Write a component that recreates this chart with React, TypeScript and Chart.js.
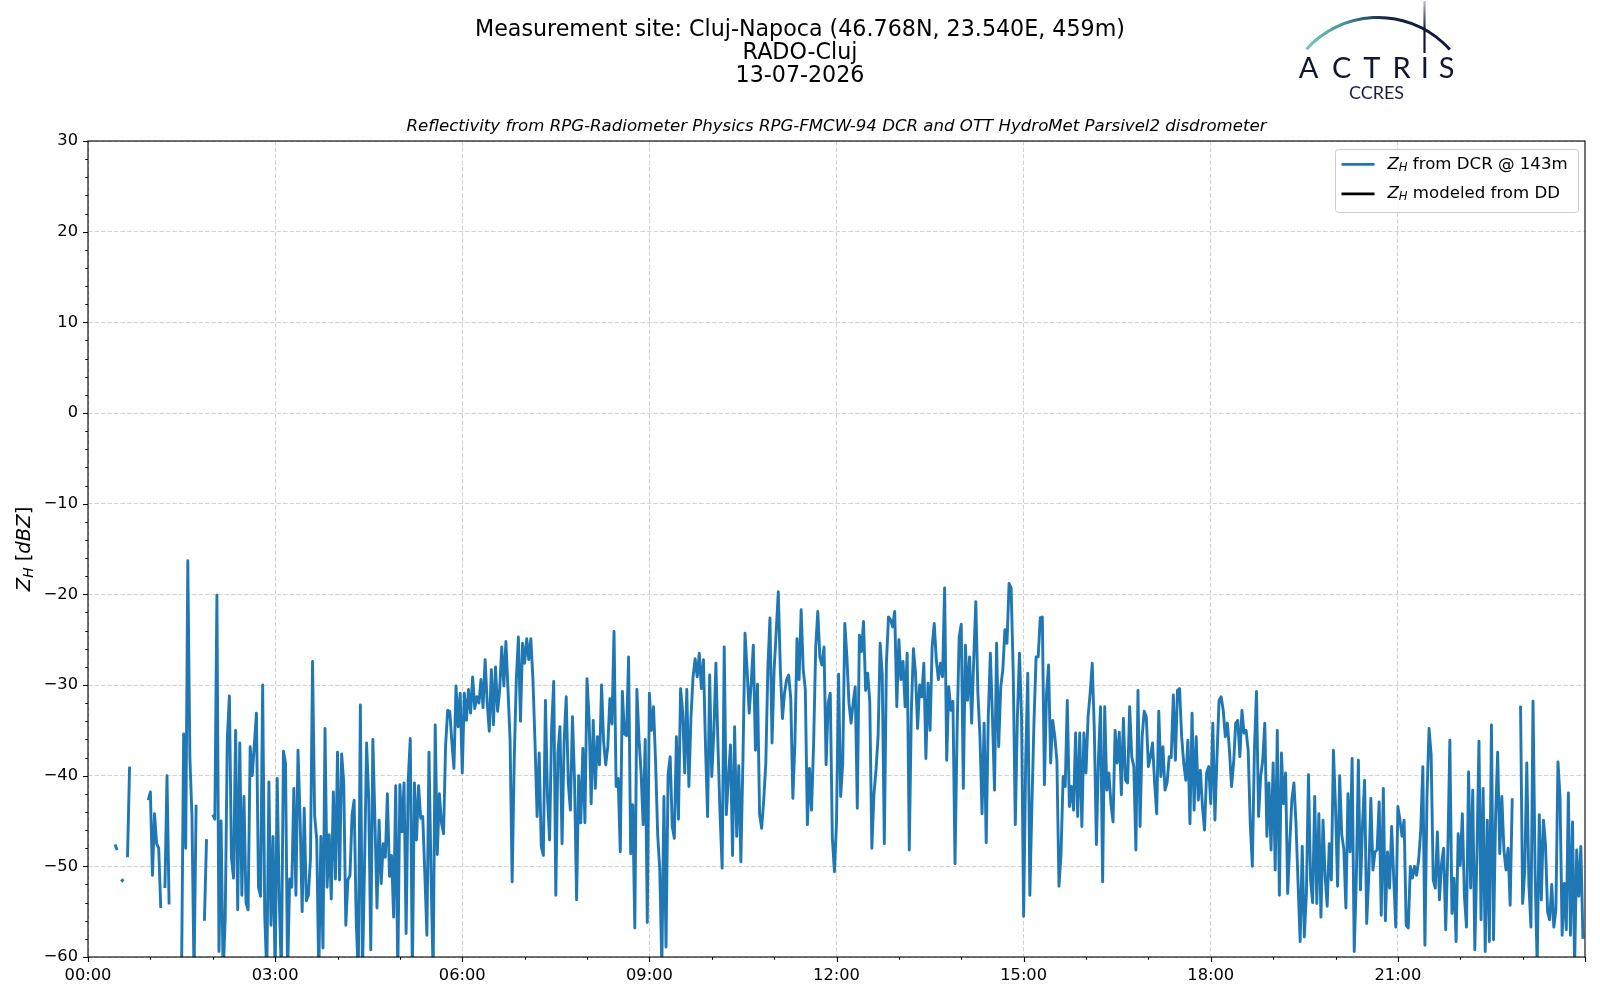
import { useEffect, useRef } from "react";
import { Chart, registerables } from "chart.js";

Chart.register(...registerables);

const N = null;

// header texts
const titleLines = [
    "Measurement site: Cluj-Napoca (46.768N, 23.540E, 459m)",
    "RADO-Cluj",
    "13-07-2026",
];
const subtitle = "Reflectivity from RPG-Radiometer Physics RPG-FMCW-94 DCR and OTT HydroMet Parsivel2 disdrometer";

// x axis in minutes after 00:00
const tickMinutes = [0, 180, 360, 540, 720, 900, 1080, 1260];
const tickLabels = ["00:00", "03:00", "06:00", "09:00", "12:00", "15:00", "18:00", "21:00"];
const sampleStep = 2; // minutes between DCR samples

// Z_H from DCR @ 143m, one row per hour (dBZ, null = no echo)
const dcrZh: (number | null)[] = [
    N, N, N, N, N, N, N, N, N, N, N, N, N, -47.6, -48.2, N, -51.7, -51.4, N, -49, -39, N, N, N, N, N, N, N, N, -42.7,
    -41.8, -51, -44.2, -47.5, -48, -54.6, N, -52.4, -40, -54.2, N, N, N, N, N, -62, -35.4, -48, -16.3, -38, -44.5, -62, -43.2, N, N, N, -56, -47, N, N,
    -44.3, -44.8, -20.1, -59.4, -45, -62, -55.7, -35.9, -31.2, -49.1, -51.3, -35, -54.8, -36.4, -53.2, -42.3, -54, -54.8, -36.8, -40, -36.6, -33.1, -52.3, -53.3, -30, -55.4, -62, -40.7, -56.5, -46.7,
    -62, -40.3, -53.8, -62, -37.3, -38.6, -62, -51.4, -52.3, -41.4, -53.2, -37.2, -44.6, -55, -43.6, -53.8, -53.2, -49.1, -27.4, -44.4, -47, -62, -46.7, -59, -34.8, -52.3, -46.5, -53.6, -41.8, -51.4,
    -37.4, -51.5, -37.6, -40.8, -56.5, -51.5, -51, -44.3, -42.7, -56, -62, -32.2, -62, -50, -36.4, -42.5, -59.2, -36, -44.9, -54.6, -44.9, -51.9, -47.5, -49, -42, -51.1, -48.8, -55.6, -41.1, -62,
    -41, -46.2, -40.8, -57.4, -40.5, -35.9, -62, -40.8, -47.1, -41.1, -44.7, -44.5, -50.8, -57.6, -37.4, -51, -62, -34.4, -48.7, -42, -45.2, -46.4, -36.6, -32.8, -32.9, -36.3, -39.2, -30.1, -34.6, -30.9,
    -39.7, -30.9, -33.9, -30.5, -33.1, -29.1, -32.6, -31.3, -32, -29.4, -32.5, -27.2, -32, -35.1, -28.3, -34.4, -28, -32.9, -30.5, -25.8, -30.1, -25.2, -30.5, -36, -51.7, -38.3, -29.4, -24.7, -34, -25.4,
    -27.6, -24.9, -27.2, -24.9, -29.4, -36.4, -44.5, -37.5, -47.8, -48.8, -31.7, -42.3, -47.1, -34.6, -29.6, -53.2, -37.5, -34.6, -47.5, -36.2, -31.3, -40.8, -43.8, -33.5, -40.5, -53.7, -40, -45.2, -37, -45.2,
    -29.3, -33.7, -43.1, -33.9, -41.4, -35.7, -38.8, -30, -36.3, -38.8, -36.8, -31.5, -34.3, -24.1, -41.2, -40.3, -48.4, -30.7, -35.4, -35.6, -26.9, -48.6, -43.2, -56.8, -30.5, -35.9, -39.6, -45.4, -36, -56.2,
    -30.9, -35, -32.4, -38.6, -46.5, -50.4, -61, -42.3, -58.9, -39.9, -37.9, -45.6, -46.9, -35.7, -44.8, -30.4, -32.9, -39.7, -30.5, -41.2, -33.6, -29.1, -27.1, -29.1, -26.5, -30.4, -27.2, -36.8, -44.5, -28.9,
    -40.1, -35.3, -27.6, -36.8, -44.3, -50.2, -25.8, -44.3, -40.3, -36.6, -48.8, -34.6, -46.7, -38.9, -49.5, -38.3, -24.3, -28.3, -33.1, -29.7, -25.6, -37.2, -29.9, -44.2, -45.8, -42.7, -38.6, -28, -22.6, -36.4,
    -28.3, -24.1, -19.7, -28.3, -33.7, -30.9, -29.4, -28.9, -31.5, -42.5, -36.4, -24.9, -29.4, -21.7, -28.3, -30.5, -45.4, -39.2, -43.8, -36.4, -25.8, -21.9, -26.9, -27.8, -25.8, -38.8, -32, -30.9, -46.9, -50.6,
    -45.2, -28.8, -42.3, -38.6, -23.2, -26.9, -32, -34.2, -32, -30.2, -43.6, -24.5, -26.3, -23, -30.6, -28.7, -31.8, -48, -42.1, -39.4, -35.7, -25.4, -28.9, -47.5, -27.6, -22.5, -22.8, -23.6, -21.9, -32.4,
    -25, -29.4, -27.4, -32.4, -26.5, -48.2, -32.8, -26, -28.7, -34.8, -30, -31.3, -27.6, -38.1, -29.8, -35, -25.8, -23.2, -27.2, -29.4, -27.6, -29.1, -19.3, -38.3, -30.2, -32.8, -31.8, -49.7, -35, -24.7,
    -23.3, -41.4, -25.6, -31.7, -26.9, -34.2, -27.2, -20.8, -30.9, -35.7, -44.2, -34.2, -47.4, -33.5, -26.5, -33.5, -41.6, -25.4, -36.8, -30.2, -28.3, -23.9, -25.4, -18.8, -19.3, -28.7, -45.4, -33.5, -26.5, -33.5,
    -55.5, -38.3, -28.7, -53.2, -43.1, -33.9, -26.9, -26.9, -22.6, -22.5, -41, -31, -27.8, -38.6, -33.9, -35.7, -38.3, -52.2, -48.6, -40.1, -41.2, -31.7, -43.4, -41.2, -43.8, -35.3, -44.5, -35.3, -45.6, -35.3,
    -39.7, -33.5, -30.9, -27.6, -35, -47.6, -38, -32.4, -51.7, -32.4, -41.6, -39.7, -43.1, -45.1, -35, -38.6, -35.2, -42.1, -33.7, -40.5, -40.8, -32.4, -37.9, -39, -48.2, -30.6, -45.6, -35.7, -32.9, -33.5,
    -39, -37.9, -36.4, -40.8, -44.2, -32.9, -40.1, -36.8, -41.6, -40.8, -37.9, -38, -31.1, -38.3, -30.6, -30.4, -35.7, -38.6, -40.5, -36.1, -45.3, -33.1, -43.8, -35.7, -42.7, -39.4, -43.4, -46, -39.7, -39,
    -43.1, -34.2, -44.9, -37.9, -31.7, -31.3, -32.8, -35.7, -34.2, -37.2, -41.2, -38.6, -34.2, -33.9, -37.9, -32.8, -35.3, -35, -37.2, -45.3, -50, -37.2, -30.7, -44.5, -40.1, -38.3, -34.2, -46.7, -40.8, -48.2,
    -38.6, -50.4, -35, -53.2, -37.5, -43.1, -39.7, -53, -47.5, -42.7, -40.8, -45.3, -51.9, -58.3, -47.8, -57.8, -53, -39.9, -51.5, -54, -42.3, -54.1, -44.2, -55.6, -44.9, -51.1, -54.4, -47.5, -51.5, -37.2,
    -43.4, -52.2, -40, -46.5, -48.1, -54.6, -42, -48.4, -38.1, -59.4, -51.5, -38.3, -52.6, -45.3, -40.5, -56.3, -51.1, -42.5, -50.4, -48.4, -48.2, -42.9, -55.4, -41.4, -56, -48.4, -52.4, -45.6, -51.3, -56.7,
    -43.4, -44.9, -46.7, -44.9, -56.5, -56.8, -50, -51.3, -50, -51, -49.3, -46, -39, -58.7, -42.3, -34.8, -37.7, -51.5, -52.4, -46.2, -53.7, -49.7, -48, -57, -48.6, -36.1, -55.2, -51.3, -58.3, -46.4,
    -49.9, -44.2, -53.3, -56.7, -39.6, -52.4, -41.6, -59.2, -48.9, -36.2, -55.9, -41.4, -59.4, -44.9, -58.3, -34.4, -58.1, -44.5, -37.4, -48.6, -42.3, -48.2, -50.4, -48, -54.3, -42.5, N, N, N, -32.3,
    -54.1, -50.6, -38.6, -51.9, -56.7, -31.8, -50.6, -61, -44.3, -53.7, -44.9, -47.6, -55, -55.9, -52, -56.7, -54.8, -38.5, -42.5, -57.6, -51.9, -57, -41.9, -57.6, -45.1, -61, -48.2, -53.3, -47.8, -58,
];

// Z_H modeled from the disdrometer DSD: nothing recorded this day
const ddZh: (number | null)[] = [];

type Piece = { t: string; it?: boolean; sub?: boolean };

const legendItems: { parts: Piece[]; color: string }[] = [
    { parts: [{ t: "Z", it: true }, { t: "H", it: true, sub: true }, { t: " from DCR @ 143m" }], color: "#1f77b4" },
    { parts: [{ t: "Z", it: true }, { t: "H", it: true, sub: true }, { t: " modeled from DD" }], color: "#000000" },
];
const yTitle: Piece[] = [{ t: "Z", it: true }, { t: "H", it: true, sub: true }, { t: " [" }, { t: "dBZ", it: true }, { t: "]" }];

const FAMILY = '"DejaVu Sans", sans-serif';
const TICK_SIZE = 16.25;
const TEXT_SIZE = 16.6;

function drawPieces(ctx: CanvasRenderingContext2D, parts: Piece[], x: number, y: number, size: number, align: "left" | "center") {
    const fontOf = (p: Piece) => `${p.it ? "italic " : ""}${p.sub ? size * 0.7 : size}px ${FAMILY}`;
    const widths = parts.map((p) => {
        ctx.font = fontOf(p);
        return ctx.measureText(p.t).width;
    });
    const total = widths.reduce((a, b) => a + b, 0);
    let cx = align === "center" ? x - total / 2 : x;
    ctx.textAlign = "left";
    parts.forEach((p, i) => {
        ctx.font = fontOf(p);
        ctx.fillText(p.t, cx, y + (p.sub ? size * 0.22 : 0));
        cx += widths[i];
    });
}

function drawLogo(ctx: CanvasRenderingContext2D) {
    ctx.save();
    const navy = "#121636";
    const arcGrad = ctx.createLinearGradient(1306, 0, 1450, 0);
    arcGrad.addColorStop(0, "#78c6c2");
    arcGrad.addColorStop(0.28, "#3d8f99");
    arcGrad.addColorStop(0.55, "#152448");
    arcGrad.addColorStop(1, navy);
    ctx.strokeStyle = arcGrad;
    ctx.lineWidth = 3;
    ctx.beginPath();
    ctx.arc(1378, 114, 96.5, (-137.8 * Math.PI) / 180, (-41.9 * Math.PI) / 180);
    ctx.stroke();

    const mast = ctx.createLinearGradient(0, 0, 0, 30);
    mast.addColorStop(0, "rgba(18,22,54,0.25)");
    mast.addColorStop(1, navy);
    ctx.strokeStyle = mast;
    ctx.lineWidth = 2.2;
    ctx.beginPath();
    ctx.moveTo(1424.5, 1);
    ctx.lineTo(1424.5, 53);
    ctx.stroke();

    ctx.fillStyle = navy;
    ctx.font = '400 29px Lato, "DejaVu Sans", sans-serif';
    ctx.textAlign = "center";
    ctx.textBaseline = "alphabetic";
    const letters = ["A", "C", "T", "R", "I", "S"];
    const centers = [1308.5, 1341.7, 1371.7, 1401.5, 1424.8, 1446.5];
    letters.forEach((l, i) => ctx.fillText(l, centers[i], 78.3));
    ctx.fillStyle = "#1a1f45";
    ctx.font = '400 18px Lato, "DejaVu Sans", sans-serif';
    ctx.fillText("CCRES", 1376.5, 99);
    ctx.restore();
}

const decorations = {
    id: "decorations",
    afterDraw(chart: any) {
        const { ctx, chartArea, scales } = chart;
        const { left, right, top, bottom } = chartArea;
        ctx.save();

        // spines
        ctx.strokeStyle = "#000";
        ctx.lineWidth = 1.1;
        ctx.strokeRect(left, top, right - left, bottom - top);

        // major + minor ticks (left and bottom only)
        ctx.beginPath();
        for (let v = -60; v <= 30; v += 2) {
            const py = Math.round(scales.y.getPixelForValue(v)) + 0.5;
            const len = v % 10 === 0 ? 4.9 : 2.8;
            ctx.moveTo(left - len, py);
            ctx.lineTo(left, py);
        }
        for (let m = 0; m <= 1440; m += 60) {
            const px = Math.round(scales.x.getPixelForValue(m)) + 0.5;
            const len = m % 180 === 0 ? 4.9 : 2.8;
            ctx.moveTo(px, bottom);
            ctx.lineTo(px, bottom + len);
        }
        ctx.stroke();

        // titles
        ctx.fillStyle = "#000";
        ctx.textAlign = "center";
        ctx.textBaseline = "alphabetic";
        ctx.font = `22.2px ${FAMILY}`;
        const baselines = [36, 59, 81.7];
        titleLines.forEach((line, i) => ctx.fillText(line, 800, baselines[i]));
        ctx.font = `italic ${TEXT_SIZE}px ${FAMILY}`;
        ctx.fillText(subtitle, (left + right) / 2, 131);

        // y axis title
        ctx.save();
        ctx.translate(25, (top + bottom) / 2);
        ctx.rotate(-Math.PI / 2);
        ctx.textBaseline = "middle";
        drawPieces(ctx, yTitle, 0, 0, 19.6, "center");
        ctx.restore();

        // legend
        const bx = 1335, by = 149, bw = 243, bh = 63;
        ctx.fillStyle = "rgba(255,255,255,0.8)";
        ctx.strokeStyle = "#cccccc";
        ctx.lineWidth = 1;
        ctx.beginPath();
        ctx.roundRect(bx + 0.5, by + 0.5, bw, bh, 3);
        ctx.fill();
        ctx.stroke();
        const rows = [164.3, 193.8];
        legendItems.forEach((item, i) => {
            ctx.strokeStyle = item.color;
            ctx.lineWidth = 2.8;
            ctx.beginPath();
            ctx.moveTo(1341.5, rows[i]);
            ctx.lineTo(1374.5, rows[i]);
            ctx.stroke();
            ctx.fillStyle = "#000";
            ctx.textBaseline = "middle";
            drawPieces(ctx, item.parts, 1387.5, rows[i], TEXT_SIZE, "left");
        });

        drawLogo(ctx);
        ctx.restore();
    },
};

export default function App() {
    const canvasRef = useRef<HTMLCanvasElement | null>(null);

    useEffect(() => {
        if (!canvasRef.current) return;
        const tickFont = { family: "DejaVu Sans", size: TICK_SIZE };
        const gridColor = "#d3d3d3";

        const chart = new Chart(canvasRef.current, {
            type: "line",
            data: {
                datasets: [
                    {
                        label: "Z_H from DCR @ 143m",
                        data: dcrZh.map((v, i) => ({ x: i * sampleStep, y: v })) as any,
                        borderColor: "#1f77b4",
                        borderWidth: 2.9,
                        borderJoinStyle: "round",
                        pointRadius: 0,
                        spanGaps: false,
                        tension: 0,
                        clip: 0 as any,
                    },
                    {
                        label: "Z_H modeled from DD",
                        data: ddZh.map((v, i) => ({ x: i * sampleStep, y: v })) as any,
                        borderColor: "#000000",
                        borderWidth: 2.9,
                        pointRadius: 0,
                    },
                ],
            },
            options: {
                responsive: false,
                animation: false,
                devicePixelRatio: 1,
                layout: { padding: { top: 141, right: 15, bottom: 0, left: 0 } },
                plugins: {
                    legend: { display: false },
                    tooltip: { enabled: false },
                },
                scales: {
                    x: {
                        type: "linear",
                        min: 0,
                        max: 1440,
                        afterBuildTicks: (scale: any) => {
                            scale.ticks = tickMinutes.map((value) => ({ value }));
                        },
                        afterFit: (scale: any) => {
                            scale.height = 43;
                        },
                        ticks: {
                            autoSkip: false,
                            maxRotation: 0,
                            padding: 9,
                            color: "#000",
                            font: tickFont,
                            callback: (value: any) => tickLabels[tickMinutes.indexOf(Number(value))] ?? "",
                        },
                        grid: { color: gridColor, lineWidth: 1, drawTicks: false },
                        border: { display: false, dash: [4.5, 2] },
                    },
                    y: {
                        min: -60,
                        max: 30,
                        afterFit: (scale: any) => {
                            scale.width = 88;
                        },
                        ticks: {
                            stepSize: 10,
                            padding: 10,
                            color: "#000",
                            font: tickFont,
                            callback: (value: any) => String(value).replace("-", "\u2212"),
                        },
                        grid: { color: gridColor, lineWidth: 1, drawTicks: false },
                        border: { display: false, dash: [4.5, 2] },
                    },
                },
            },
            plugins: [decorations],
        });

        return () => chart.destroy();
    }, []);

    return (
        <div style={{ position: "absolute", left: 0, top: 0, width: 1600, height: 1000, background: "#fff" }}>
            <canvas ref={canvasRef} width={1600} height={1000} style={{ display: "block" }} />
        </div>
    );
}
